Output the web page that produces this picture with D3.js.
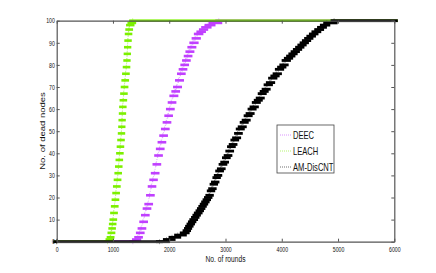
<!DOCTYPE html>
<html>
<head>
<meta charset="utf-8">
<script src="https://cdn.jsdelivr.net/npm/d3@7"></script>
<style>
  body { margin: 0; background: #fff; }
  svg { display: block; }
  text { font-family: "Liberation Sans", Arial, sans-serif; fill: #111; }
</style>
</head>
<body>
<script>
// chart size and plot box
var svg_width = 436;
var svg_height = 273;
var plot_left = 56.7, plot_right = 394.3, plot_top = 20.7, plot_bottom = 241.7;
var squeeze = 0.74; // text in the picture is narrower than it is tall

// tick labels
var x_ticks = [0, 1000, 2000, 3000, 4000, 5000, 6000];
var y_ticks = [0, 10, 20, 30, 40, 50, 60, 70, 80, 90, 100];

// series: round at which the count of dead nodes changes
var series_names = ["DEEC", "LEACH", "AM-DisCNT"];
var series_colors = ["#c040ff", "#7cf000", "#000000"];
var marker_h = [2.6, 2.6, 2.8];

var deec_rounds = [0, 1353, 1400, 1440, 1470, 1500, 1530, 1560, 1590, 1620, 1650, 1680, 1708, 1735, 1765, 1795, 1825, 1855, 1885, 1915, 1945, 1975, 2004, 2035, 2065, 2100, 2130, 2165, 2200, 2230, 2260, 2290, 2320, 2350, 2385, 2420, 2460, 2500, 2545, 2590, 2630, 2690, 2760, 2880];
var deec_dead = [0, 0, 1, 2, 4, 6, 9, 12, 15, 17, 21, 25, 28, 31, 35, 39, 42, 45, 48, 51, 54, 57, 60, 63, 66, 68, 70, 73, 76, 78, 80, 82, 84, 86, 88, 90, 92, 94, 95, 96, 97, 98, 99, 100];

var leach_rounds = [0, 905, 930, 950, 965, 980, 990, 1000, 1012, 1025, 1038, 1050, 1062, 1075, 1088, 1098, 1108, 1118, 1128, 1138, 1148, 1155, 1160, 1166, 1172, 1180, 1190, 1200, 1212, 1224, 1236, 1246, 1252, 1258, 1264, 1272, 1282, 1295, 1320, 1350];
var leach_dead = [0, 0, 1, 2, 4, 6, 8, 10, 13, 16, 19, 22, 25, 28, 31, 34, 37, 40, 43, 46, 49, 52, 55, 58, 61, 64, 67, 70, 73, 76, 79, 82, 85, 88, 91, 94, 96, 98, 99, 100];

var amdis_rounds = [0, 1826, 1950, 2050, 2150, 2250, 2300, 2325, 2345, 2370, 2395, 2420, 2450, 2475, 2500, 2530, 2555, 2580, 2605, 2630, 2655, 2680, 2705, 2730, 2755, 2780, 2805, 2830, 2855, 2880, 2910, 2940, 2970, 3000, 3030, 3060, 3090, 3120, 3150, 3180, 3215, 3245, 3280, 3315, 3350, 3385, 3420, 3455, 3490, 3530, 3565, 3600, 3635, 3670, 3705, 3740, 3780, 3820, 3860, 3900, 3940, 3980, 4020, 4060, 4100, 4140, 4180, 4220, 4260, 4300, 4340, 4380, 4420, 4460, 4500, 4545, 4590, 4640, 4690, 4740, 4800, 4930];
var amdis_dead = [0, 0, 1, 2, 3, 4, 5, 6, 7, 8, 9, 10, 11, 12, 13, 14, 15, 16, 17, 18, 19, 20, 21, 23, 24, 26, 27, 29, 30, 32, 33, 35, 36, 38, 39, 41, 43, 44, 46, 47, 49, 51, 52, 54, 55, 57, 58, 60, 61, 63, 64, 65, 67, 68, 69, 71, 72, 74, 75, 76, 78, 79, 80, 82, 83, 84, 85, 86, 87, 88, 89, 90, 91, 92, 93, 94, 95, 96, 97, 98, 99, 100];

var all_rounds = [deec_rounds, leach_rounds, amdis_rounds];
var all_dead = [deec_dead, leach_dead, amdis_dead];

var x = d3.scaleLinear().domain([0, 6000]).range([plot_left, plot_right]);
var y = d3.scaleLinear().domain([0, 100]).range([plot_bottom, plot_top]);

var svg = d3.select("body").append("svg")
    .attr("width", svg_width).attr("height", svg_height);

svg.append("rect")
    .attr("x", plot_left).attr("y", plot_top)
    .attr("width", plot_right - plot_left).attr("height", plot_bottom - plot_top)
    .attr("fill", "#fff");

// 曲线 in legend order, later ones on top
series_names.forEach(function(name, s) {
    var pts = all_rounds[s].map(function(r, i) { return [r, all_dead[s][i]]; });
    var g = svg.append("g");

    g.append("path")
        .datum(pts)
        .attr("d", d3.line().x(function(d) { return x(d[0]); }).y(function(d) { return y(d[1]); }))
        .attr("fill", "none")
        .attr("stroke", series_colors[s])
        .attr("stroke-width", 0.8)
        .attr("stroke-dasharray", "1,1.5")
        .attr("opacity", 0.6);

    // markers, one per round, blur into a bar while the count holds
    g.selectAll("rect")
        .data(pts)
        .enter()
        .append("rect")
        .attr("x", function(d) { return x(d[0]) - 3.5; })
        .attr("y", function(d) { return y(d[1]) - marker_h[s] / 2; })
        .attr("width", function(d, i) {
            var next = i < pts.length - 1 ? pts[i + 1][0] : 6000;
            return x(next) - x(d[0]) + 7;
        })
        .attr("height", marker_h[s])
        .attr("fill", series_colors[s]);

    g.selectAll("line.plus")
        .data(pts)
        .enter()
        .append("line")
        .attr("class", "plus")
        .attr("x1", function(d) { return x(d[0]); })
        .attr("x2", function(d) { return x(d[0]); })
        .attr("y1", function(d) { return y(d[1]) - 2.5; })
        .attr("y2", function(d) { return y(d[1]) + 2.5; })
        .attr("stroke", series_colors[s])
        .attr("stroke-width", 0.7)
        .attr("opacity", 0.5);
});

// 绘制坐标轴 (box with inward ticks)
function style_axis(g) {
    g.select(".domain").attr("stroke", "#555").attr("stroke-width", 1.2);
    g.selectAll(".tick line").attr("stroke", "#555");
    g.selectAll(".tick text").attr("font-size", 7).attr("fill", "#222")
        .attr("font-family", "Liberation Sans, Arial, sans-serif");
}

var xb = svg.append("g").attr("transform", "translate(0," + plot_bottom + ")")
    .call(d3.axisBottom(x).tickValues(x_ticks).tickSize(-3).tickSizeOuter(0).tickPadding(5).tickFormat(d3.format("d")));
style_axis(xb);
xb.selectAll(".tick text").attr("transform", "scale(" + squeeze + ",1)");

var xt = svg.append("g").attr("transform", "translate(0," + plot_top + ")")
    .call(d3.axisTop(x).tickValues(x_ticks).tickSize(-3).tickSizeOuter(0).tickFormat(""));
style_axis(xt);

var yl = svg.append("g").attr("transform", "translate(" + plot_left + ",0)")
    .call(d3.axisLeft(y).tickValues(y_ticks).tickSize(-3).tickSizeOuter(0).tickPadding(2.5).tickFormat(d3.format("d")));
style_axis(yl);
yl.selectAll(".tick text").attr("transform", "scale(" + squeeze + ",1)");

var yr = svg.append("g").attr("transform", "translate(" + plot_right + ",0)")
    .call(d3.axisRight(y).tickValues(y_ticks).tickSize(-3).tickSizeOuter(0).tickFormat(""));
style_axis(yr);

// 轴标题
svg.append("text")
    .attr("transform", "translate(225.5,261.5) scale(" + squeeze + ",1)")
    .attr("text-anchor", "middle").attr("font-size", 9)
    .text("No. of rounds");
svg.append("text")
    .attr("transform", "translate(45,131) scale(" + squeeze + ",1) rotate(-90)")
    .attr("text-anchor", "middle").attr("font-size", 9.5)
    .text("No. of dead nodes");

// 图例
var legend = svg.append("g").attr("transform", "translate(277,125)");
legend.append("rect")
    .attr("width", 57).attr("height", 48)
    .attr("fill", "#fff").attr("stroke", "#444").attr("stroke-width", 0.8);
series_names.forEach(function(name, s) {
    var ly = 10 + s * 16;
    legend.append("line")
        .attr("x1", 3).attr("x2", 14).attr("y1", ly).attr("y2", ly)
        .attr("stroke", series_colors[s]).attr("stroke-width", 0.8)
        .attr("stroke-dasharray", "1,1").attr("opacity", 0.7);
    legend.append("text")
        .attr("transform", "translate(16," + (ly + 3.5) + ") scale(0.76,1)")
        .attr("font-size", 10)
        .text(name);
});
</script>
</body>
</html>
